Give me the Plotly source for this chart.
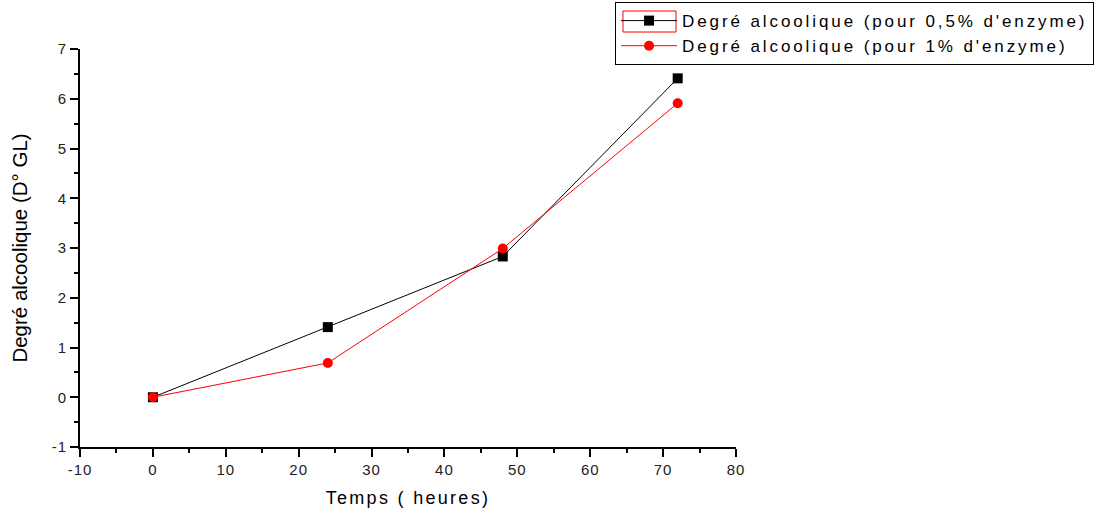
import plotly.graph_objects as go

# Fermentation time (hours) and measured alcohol content (°GL)
temps = [0, 24, 48, 72]
degre_05 = [0.0, 1.41, 2.83, 6.41]
degre_1 = [0.0, 0.69, 2.99, 5.91]

x_ticks = [-10, 0, 10, 20, 30, 40, 50, 60, 70, 80]
y_ticks = [-1, 0, 1, 2, 3, 4, 5, 6, 7]

name_05 = "Degré alcoolique (pour 0,5% d'enzyme)"
name_1 = "Degré alcoolique (pour 1% d'enzyme)"


def spaced(text, px):
    """Wrap text in a span with extra letter spacing."""
    return f'<span style="letter-spacing:{px}px">{text}</span>'


FONT = "Liberation Sans, Arial"

fig = go.Figure()
fig.add_trace(go.Scatter(
    x=temps, y=degre_05, mode="lines+markers",
    name=spaced(name_05, 2.9),
    line=dict(color="black", width=1),
    marker=dict(symbol="square", size=10, color="black"),
))
fig.add_trace(go.Scatter(
    x=temps, y=degre_1, mode="lines+markers",
    name=spaced(name_1, 2.9),
    line=dict(color="red", width=1),
    marker=dict(symbol="circle", size=10, color="red"),
))

axis_common = dict(
    showgrid=False, zeroline=False, showline=True, linecolor="black",
    linewidth=2, ticks="outside", ticklen=8, tickwidth=2, tickcolor="black",
    tickfont=dict(family=FONT, size=15, color="#222"),
    mirror=False, automargin=False,
)

fig.update_xaxes(
    range=[-10, 80], tickvals=x_ticks,
    ticktext=[spaced(str(v), 1) for v in x_ticks],
    minor=dict(dtick=5, ticks="outside", ticklen=4, tickwidth=2, tickcolor="black"),
    title=dict(text=spaced("Temps ( heures)", 2.3),
               font=dict(family=FONT, size=18, color="black"), standoff=14),
    **axis_common,
)
fig.update_yaxes(
    range=[-1, 7], tickvals=y_ticks,
    ticktext=[spaced(str(v), 1) for v in y_ticks],
    minor=dict(dtick=0.5, ticks="outside", ticklen=4, tickwidth=2, tickcolor="black"),
    title=dict(text="Degré alcoolique (D° GL)",
               font=dict(family=FONT, size=20.5, color="black"), standoff=18),
    **axis_common,
)

# thin red frame around the first legend sample
fig.add_shape(type="rect", xref="paper", yref="paper",
              x0=0.8277, x1=0.9085, y0=1.0427, y1=1.0955,
              line=dict(color="red", width=1), fillcolor="rgba(0,0,0,0)")

fig.update_layout(
    width=1107, height=514,
    margin=dict(l=80, r=371, t=49, b=67, autoexpand=False),
    plot_bgcolor="white", paper_bgcolor="white",
    legend=dict(
        xref="container", yref="container",
        x=0.5556, y=0.996, xanchor="left", yanchor="top",
        bordercolor="black", borderwidth=1, bgcolor="rgba(0,0,0,0)",
        font=dict(family=FONT, size=17, color="black"),
        itemwidth=56, tracegroupgap=0,
    ),
    showlegend=True,
)

fig.write_html("out.html")
